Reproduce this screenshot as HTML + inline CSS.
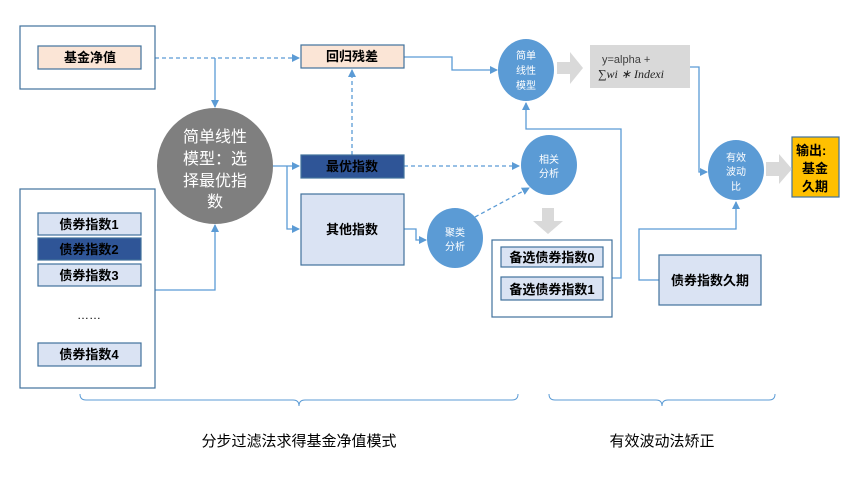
<!DOCTYPE html>
<html><head><meta charset="utf-8"><style>
html,body{margin:0;padding:0;background:#fff;}
svg{display:block;font-family:"Liberation Sans","Noto Sans CJK SC",sans-serif;}
</style></head><body>
<svg width="863" height="488" viewBox="0 0 863 488" xmlns="http://www.w3.org/2000/svg">
<defs>
<marker id="a" markerWidth="8" markerHeight="8" refX="7" refY="4" orient="auto" markerUnits="userSpaceOnUse">
<path d="M0,0 L8,4 L0,8 z" fill="#5b9bd5"/></marker>
</defs>
<g fill="none" stroke="#5b9bd5" stroke-width="1.3">
<path d="M155,58 H299" stroke-dasharray="4,3" marker-end="url(#a)"/>
<path d="M215,58 V107" marker-end="url(#a)"/>
<path d="M155,290 H215 V225" marker-end="url(#a)"/>
<path d="M273,166 H299" marker-end="url(#a)"/>
<path d="M287,166 V229 H299" marker-end="url(#a)"/>
<path d="M352,155 V70" stroke-dasharray="4,3" marker-end="url(#a)"/>
<path d="M404,57 H452 V70 H497" marker-end="url(#a)"/>
<path d="M404,166 H519" stroke-dasharray="4,3" marker-end="url(#a)"/>
<path d="M404,229 H416 V240 H426" marker-end="url(#a)"/>
<path d="M475,217 L529,188" stroke-dasharray="4,3" marker-end="url(#a)"/>
<path d="M612,278 H621 V129 H526 V103" marker-end="url(#a)"/>
<path d="M690,67 H699 V172 H707" marker-end="url(#a)"/>
<path d="M659,280 H639 V229 H736 V202" marker-end="url(#a)"/>
</g>
<g stroke="#41719c" stroke-width="1.2">
<rect x="20" y="26" width="135" height="63" fill="#fff"/>
<rect x="20" y="189" width="135" height="199" fill="#fff"/>
<rect x="38" y="46" width="103" height="23" fill="#fbe5d6"/>
<rect x="301" y="45" width="103" height="23" fill="#fbe5d6"/>
<rect x="301" y="155" width="103" height="23" fill="#2f5597"/>
<rect x="301" y="194" width="103" height="71" fill="#dae3f3"/>
<rect x="38" y="213" width="103" height="22" fill="#dae3f3"/>
<rect x="38" y="238" width="103" height="22" fill="#2f5597"/>
<rect x="38" y="264" width="103" height="22" fill="#dae3f3"/>
<rect x="38" y="343" width="103" height="23" fill="#dae3f3"/>
<rect x="492" y="240" width="120" height="77" fill="#fff"/>
<rect x="501" y="247" width="102" height="20" fill="#dae3f3"/>
<rect x="501" y="277" width="102" height="23" fill="#dae3f3"/>
<rect x="659" y="255" width="102" height="50" fill="#dae3f3"/>
<rect x="792" y="137" width="47" height="60" fill="#ffc000"/>
</g>
<rect x="590" y="45" width="100" height="43" fill="#d9d9d9"/>
<circle cx="215" cy="166" r="58" fill="#7f7f7f"/>
<g fill="#5b9bd5">
<ellipse cx="526" cy="70" rx="28" ry="31"/>
<ellipse cx="549" cy="165" rx="28" ry="30"/>
<ellipse cx="455" cy="238" rx="28" ry="30"/>
<ellipse cx="736" cy="170" rx="28" ry="30"/>
</g>
<g fill="#d9d9d9">
<path d="M557,62 H570 V52 L583,68 L570,84 V74 H557 z"/>
<path d="M766,162 H779 V154 L792,169 L779,184 V176 H766 z"/>
<path d="M542,208 H554 V221 H563 L548,234 L533,221 H542 z"/>
</g>
<g font-size="13" font-weight="bold" text-anchor="middle" fill="#000">
<text x="90" y="62">基金净值</text>
<text x="352" y="61">回归残差</text>
<text x="352" y="171" fill="#000">最优指数</text>
<text x="352" y="234">其他指数</text>
<text x="89" y="229">债券指数1</text>
<text x="89" y="254">债券指数2</text>
<text x="89" y="280">债券指数3</text>
<text x="89" y="359">债券指数4</text>
<text x="552" y="262">备选债券指数0</text>
<text x="552" y="294">备选债券指数1</text>
<text x="710" y="285">债券指数久期</text>
</g>
<text x="89" y="319" font-size="12" text-anchor="middle">……</text>
<g font-size="13" font-weight="bold" fill="#000">
<text x="796" y="155">输出:</text>
<text x="815" y="173" text-anchor="middle">基金</text>
<text x="815" y="191" text-anchor="middle">久期</text>
</g>
<g font-size="16" fill="#fff" text-anchor="middle">
<text x="215" y="142">简单线性</text>
<text x="215" y="164">模型：选</text>
<text x="215" y="186">择最优指</text>
<text x="215" y="207">数</text>
</g>
<g font-size="10" fill="#fff" text-anchor="middle">
<text x="526" y="59">简单</text><text x="526" y="74">线性</text><text x="526" y="89">模型</text>
<text x="549" y="163">相关</text><text x="549" y="177">分析</text>
<text x="455" y="236">聚类</text><text x="455" y="250">分析</text>
<text x="736" y="161">有效</text><text x="736" y="175">波动</text><text x="736" y="190">比</text>
</g>
<text x="602" y="63" font-size="11" fill="#404040">y=alpha +</text>
<text x="598" y="78" font-size="12" font-style="italic" font-family="Liberation Serif,serif" fill="#222">∑wi ∗ Indexi</text>
<g fill="none" stroke="#5b9bd5" stroke-width="1">
<path d="M80,394 Q80,400 86,400 H293 Q299,400 299,406 Q299,400 305,400 H512 Q518,400 518,394"/>
<path d="M549,394 Q549,400 555,400 H656 Q662,400 662,406 Q662,400 668,400 H769 Q775,400 775,394"/>
</g>
<g font-size="15" fill="#000" text-anchor="middle">
<text x="299" y="446">分步过滤法求得基金净值模式</text>
<text x="662" y="446">有效波动法矫正</text>
</g>
</svg>
</body></html>
